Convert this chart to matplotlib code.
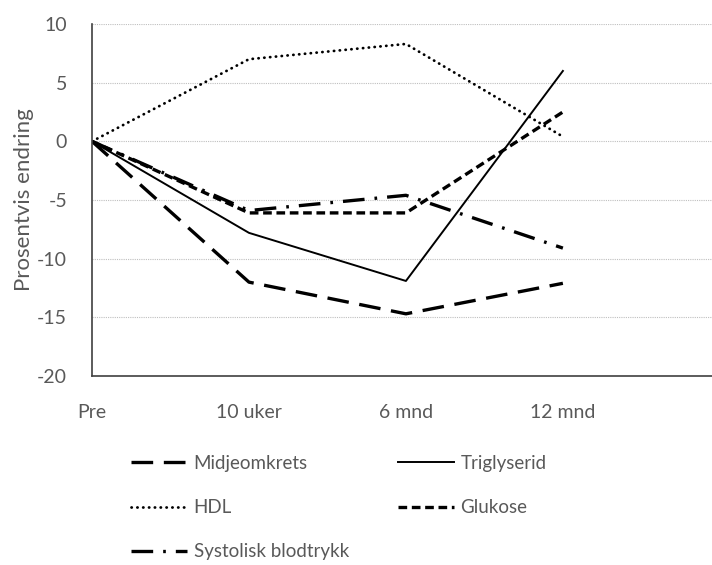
import matplotlib
matplotlib.use("Agg")
import matplotlib.pyplot as plt

plt.rcParams['font.family'] = ['Lato', 'DejaVu Sans']
plt.rcParams['axes.unicode_minus'] = False

categories = ["Pre", "10 uker", "6 mnd", "12 mnd"]
midjeomkrets = [0, -12.0, -14.7, -12.1]
triglyserid = [0, -7.8, -11.9, 6.0]
hdl = [0, 7.0, 8.3, 0.4]
glukose = [0, -6.1, -6.1, 2.5]
systolisk = [0, -5.9, -4.6, -9.1]

text_color = "#595959"

fig = plt.figure(figsize=(7.12, 5.65), dpi=100)
ax = fig.add_axes([92 / 712, 1 - 376 / 565, 1 - 92 / 712, (376 - 24) / 565])

x = list(range(len(categories)))
common = dict(color="black", solid_joinstyle="round", dash_joinstyle="round",
              dash_capstyle="butt")

l_m, = ax.plot(x, midjeomkrets, lw=2.4, linestyle=(0, (6.5, 3.2)), label="Midjeomkrets", **common)
l_t, = ax.plot(x, triglyserid, lw=1.4, linestyle="-", label="Triglyserid", **common)
l_h, = ax.plot(x, hdl, lw=2.0, linestyle=(0, (0.1, 2.0)), label="HDL",
               color="black", dash_capstyle="round", solid_joinstyle="round")
l_g, = ax.plot(x, glukose, lw=2.4, linestyle=(0, (2.6, 1.4)), label="Glukose", **common)
l_s, = ax.plot(x, systolisk, lw=2.4, linestyle=(0, (6.5, 3.0, 0.8, 3.0)),
               label="Systolisk blodtrykk", **common)

ax.set_xlim(0, 3.95)
ax.set_ylim(-20, 10)
ax.set_yticks(range(-20, 11, 5))
ax.set_xticks(x)
ax.set_xticklabels(categories)

ax.yaxis.grid(True, color="#bfbfbf", linestyle=(0, (1, 1)), linewidth=0.8)
ax.set_axisbelow(True)
for side in ("top", "right"):
    ax.spines[side].set_visible(False)
for side in ("left", "bottom"):
    ax.spines[side].set_color("#404040")
    ax.spines[side].set_linewidth(1.2)

ax.tick_params(axis="both", length=0, labelsize=14, colors=text_color)
ax.tick_params(axis="y", pad=18)
ax.tick_params(axis="x", pad=20)
ax.set_ylabel("Prosentvis endring", fontsize=16, color=text_color, labelpad=2)

handles = [l_m, l_h, l_s, l_t, l_g]
fig.legend(handles=handles, labels=[h.get_label() for h in handles],
           loc="upper left", bbox_to_anchor=(114 / 712, 1 - 438 / 565),
           ncol=2, frameon=False, fontsize=13.5, labelcolor=text_color,
           handlelength=3.0, handletextpad=0.35, columnspacing=2.6,
           labelspacing=1.45)

fig.savefig("out.png", dpi=100)
